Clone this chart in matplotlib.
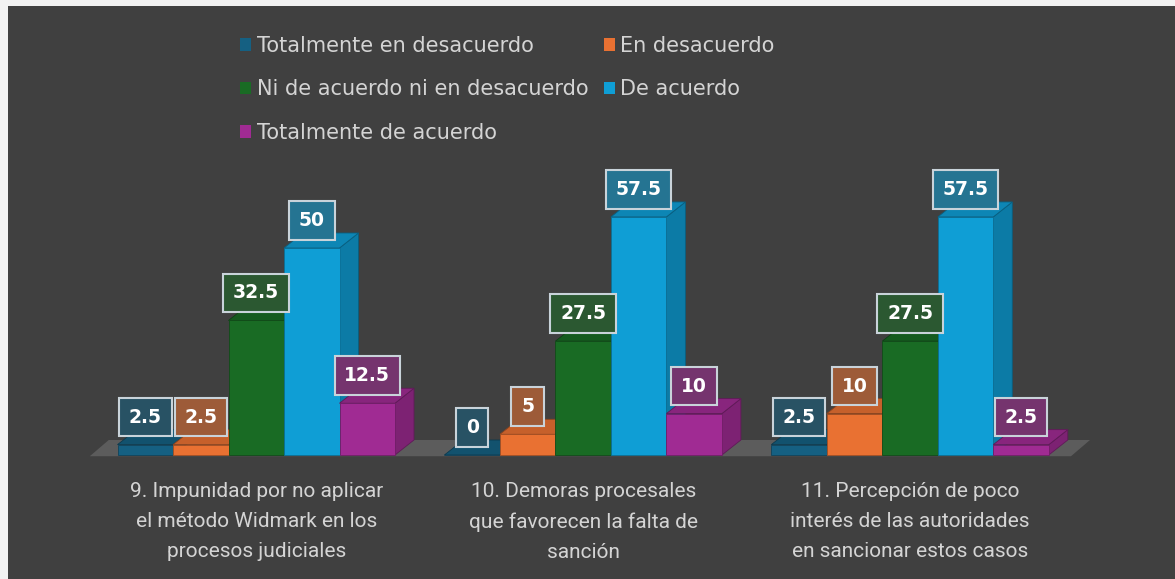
import matplotlib.pyplot as plt
import matplotlib.colors as mcolors
from matplotlib.patches import Polygon, Rectangle, Patch

# data
categories = ['9. Impunidad por no aplicar\nel método Widmark en los\nprocesos judiciales',
              '10. Demoras procesales\nque favorecen la falta de\nsanción',
              '11. Percepción de poco\ninterés de las autoridades\nen sancionar estos casos']
series_names = ['Totalmente en desacuerdo', 'En desacuerdo',
                'Ni de acuerdo ni en desacuerdo', 'De acuerdo',
                'Totalmente de acuerdo']
tot_desacuerdo = [2.5, 0, 2.5]
en_desacuerdo = [2.5, 5, 10]
ni_ni = [32.5, 27.5, 27.5]
de_acuerdo = [50, 57.5, 57.5]
tot_acuerdo = [12.5, 10, 2.5]
series = [tot_desacuerdo, en_desacuerdo, ni_ni, de_acuerdo, tot_acuerdo]
colors = ['#156082', '#E97132', '#196B24', '#0F9ED5', '#A02B93']

BG = '#404040'
TXT = '#d4d4d4'

def shade(c, f):
    r, g, b = mcolors.to_rgb(c)
    return (r*f, g*f, b*f)

def label_face(c):
    # bar colour blended into the background
    r, g, b = mcolors.to_rgb(c)
    br, bg_, bb = mcolors.to_rgb(BG)
    a = 0.55
    return (r*a+br*(1-a), g*a+bg_*(1-a), b*a+bb*(1-a))

W, H = 1175, 579
fig = plt.figure(figsize=(W/100, H/100), dpi=100, facecolor='#f2f2f2')
fig.patches.append(Rectangle((8/W, 0), 1, 1-6/H, transform=fig.transFigure,
                             facecolor=BG, edgecolor='none', zorder=-1))
ax = fig.add_axes([0, 0, 1, 1])
ax.set_zorder(2)
ax.set_facecolor('none')
ax.axis('off')

px_x = 55.5      # pixels per bar width
px_y = 4.14      # pixels per value unit
base_px = 455    # baseline, pixels from top
left_px = 117.5
ax.set_xlim(-left_px/px_x, (W-left_px)/px_x)
ax.set_ylim(-(H-base_px)/px_y, base_px/px_y)

group_step = 5.89
dx = 19/px_x
dy = 15/px_y
n = len(series)

# floor
fl0, fl1 = -0.5, (len(categories)-1)*group_step + n + 0.4
ax.add_patch(Polygon([(fl0, -0.3), (fl1, -0.3), (fl1+dx, dy), (fl0+dx, dy)],
                     closed=True, facecolor='#5c5c5c', edgecolor='none', zorder=1))

z = 2
for g in range(len(categories)):
    for j, vals in enumerate(series):
        h = vals[g]
        x0 = g*group_step + j
        x1 = x0 + 1
        c = colors[j]
        # side
        ax.add_patch(Polygon([(x1, 0), (x1+dx, dy), (x1+dx, h+dy), (x1, h)],
                             closed=True, facecolor=shade(c, 0.78),
                             edgecolor=shade(c, 0.6), lw=0.6, zorder=z))
        # top
        ax.add_patch(Polygon([(x0, h), (x1, h), (x1+dx, h+dy), (x0+dx, h+dy)],
                             closed=True, facecolor=shade(c, 0.85),
                             edgecolor=shade(c, 0.6), lw=0.6, zorder=z))
        # front
        ax.add_patch(Rectangle((x0, 0), 1, h, facecolor=c,
                               edgecolor=shade(c, 0.7), lw=0.6, zorder=z+1))
        z += 2

for g in range(len(categories)):
    for j, vals in enumerate(series):
        h = vals[g]
        xc = g*group_step + j + 0.5
        ax.annotate(f'{h:g}', xy=(xc, h), xytext=(0, 13),
                    textcoords='offset points', ha='center', va='bottom',
                    fontsize=13.5, fontweight='bold', color='white', zorder=50,
                    bbox=dict(boxstyle='square,pad=0.52', facecolor=label_face(colors[j]),
                              edgecolor='#c9d3da', lw=1.5))
    ax.text(g*group_step + n/2, -6.6, categories[g], ha='center', va='top',
            fontsize=15, color=TXT, family='Roboto', linespacing=1.72)

handles = [Patch(facecolor=c, edgecolor='none') for c in colors]
order = [0, 2, 4, 1, 3]
fig.legend([handles[i] for i in order], [series_names[i] for i in order],
           ncol=2, loc='upper left', bbox_to_anchor=(240/W, 1-36/H),
           frameon=False, handlelength=0.55, handleheight=0.55,
           handletextpad=0.25, columnspacing=0.74, labelspacing=1.12,
           prop={'family': 'DejaVu Sans', 'size': 15}, labelcolor=TXT,
           borderpad=0, borderaxespad=0)

fig.savefig('out.png', dpi=100, facecolor=fig.get_facecolor())
